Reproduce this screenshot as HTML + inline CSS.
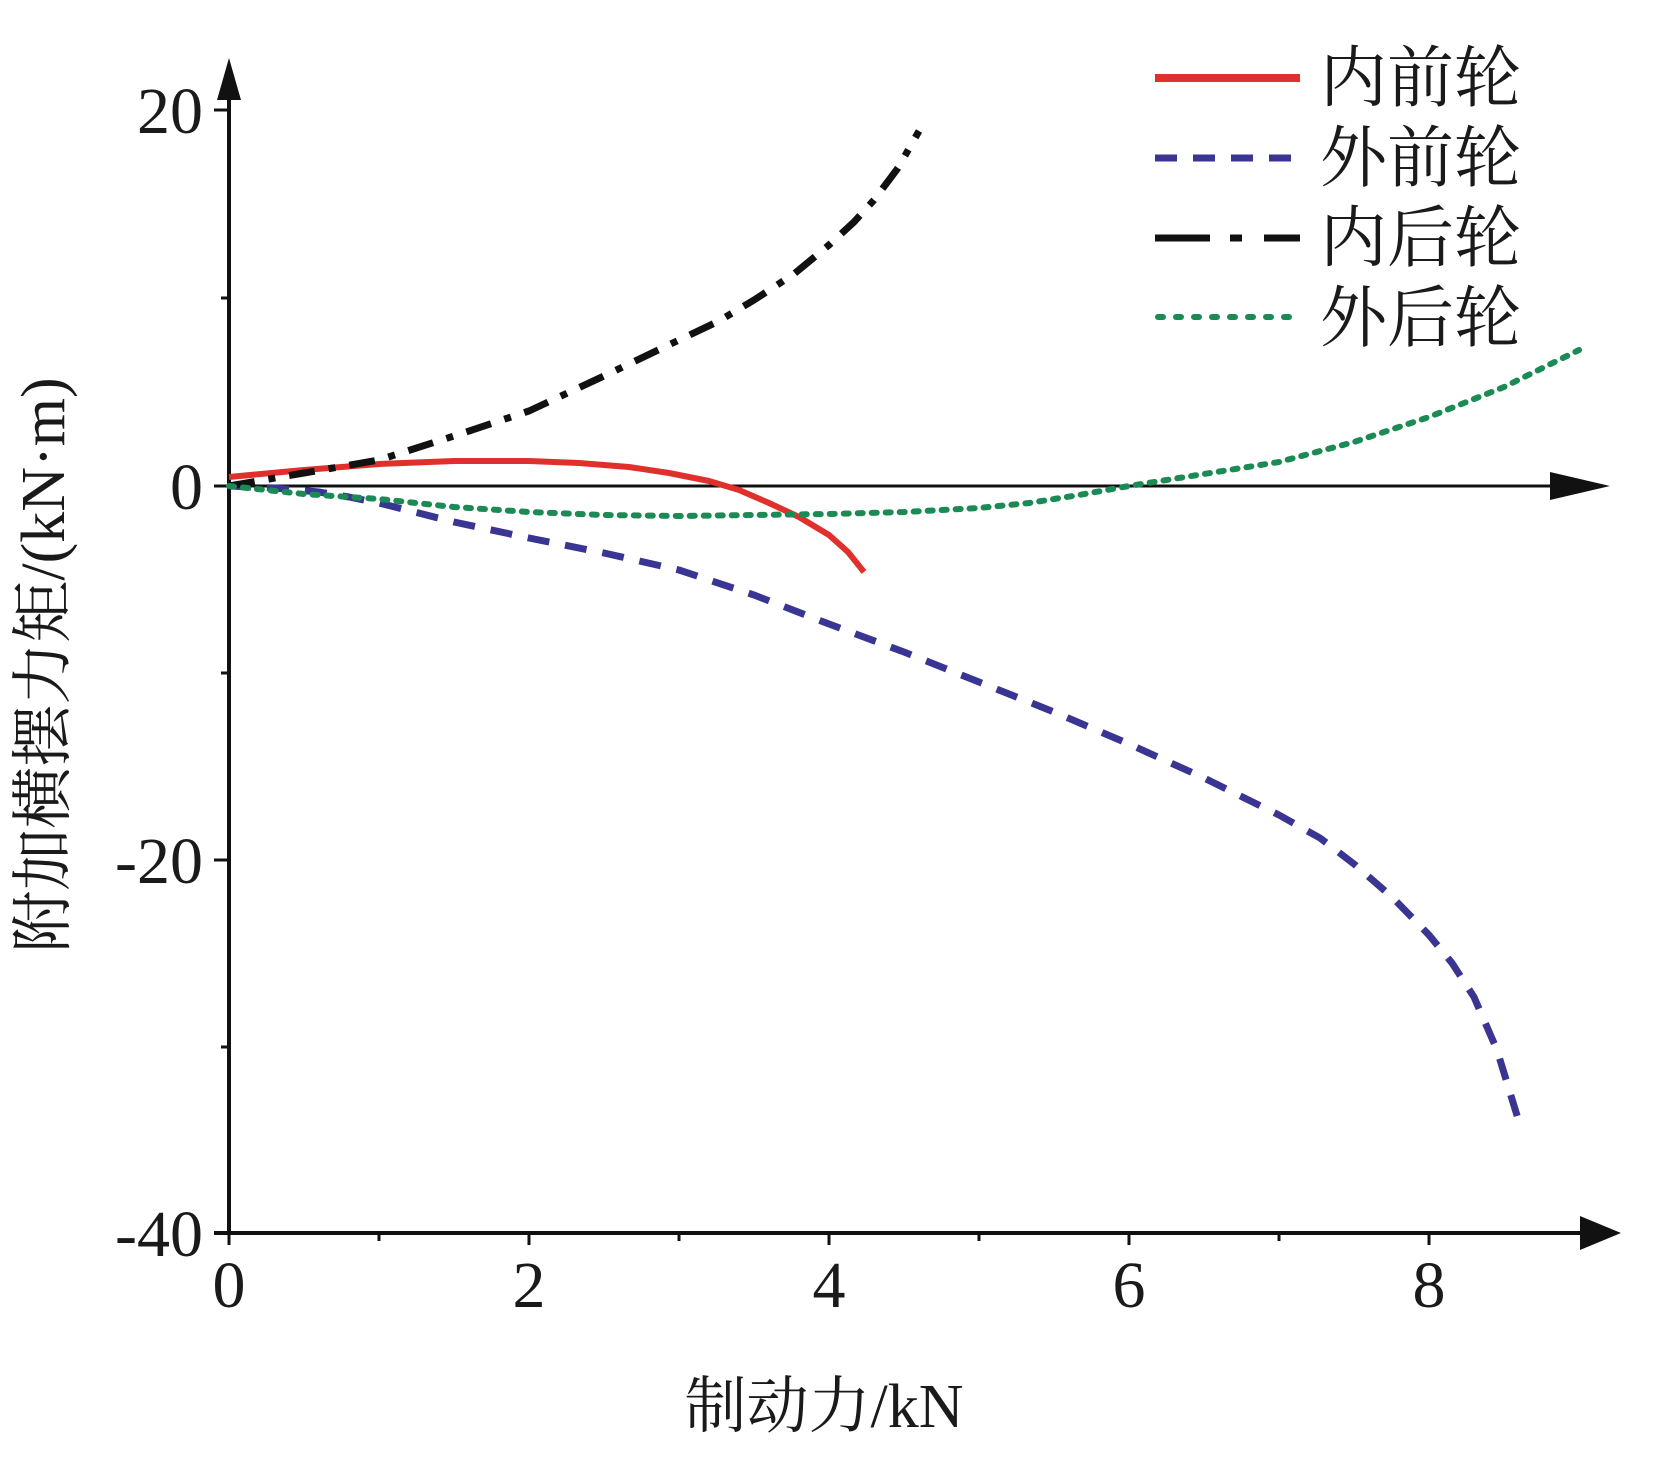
<!DOCTYPE html>
<html><head><meta charset="utf-8"><style>
html,body{margin:0;padding:0;background:#fff;}
svg{display:block;}
text{font-family:"Liberation Serif","Noto Serif CJK SC",serif;fill:#1a1a1a;}
</style></head><body>
<svg width="1654" height="1461" viewBox="0 0 1654 1461" xmlns="http://www.w3.org/2000/svg">
<line x1="229" y1="1233" x2="229" y2="90" stroke="#111" stroke-width="4"/>
<polygon points="229,58 217,100 241,100" fill="#111"/>
<line x1="214" y1="1233" x2="1590" y2="1233" stroke="#111" stroke-width="4"/>
<polygon points="1621,1233 1580,1216 1580,1250" fill="#111"/>
<line x1="229" y1="486" x2="1580" y2="486" stroke="#111" stroke-width="3"/>
<polygon points="1610,486 1550,472 1550,500" fill="#111"/>
<g stroke="#111" stroke-width="3">
<line x1="214" y1="110" x2="229" y2="110"/>
<line x1="221" y1="298" x2="229" y2="298"/>
<line x1="214" y1="486" x2="229" y2="486"/>
<line x1="221" y1="673" x2="229" y2="673"/>
<line x1="214" y1="860" x2="229" y2="860"/>
<line x1="221" y1="1047" x2="229" y2="1047"/>
<line x1="229" y1="1233" x2="229" y2="1245"/>
<line x1="379" y1="1233" x2="379" y2="1241"/>
<line x1="529" y1="1233" x2="529" y2="1245"/>
<line x1="679" y1="1233" x2="679" y2="1241"/>
<line x1="829" y1="1233" x2="829" y2="1245"/>
<line x1="979" y1="1233" x2="979" y2="1241"/>
<line x1="1129" y1="1233" x2="1129" y2="1245"/>
<line x1="1279" y1="1233" x2="1279" y2="1241"/>
<line x1="1429" y1="1233" x2="1429" y2="1245"/>
</g>
<g font-size="66" text-anchor="end">
<text x="203" y="133">20</text>
<text x="203" y="509">0</text>
<text x="203" y="883">-20</text>
<text x="203" y="1256">-40</text>
</g>
<g font-size="66" text-anchor="middle">
<text x="229" y="1307">0</text>
<text x="529" y="1307">2</text>
<text x="829" y="1307">4</text>
<text x="1129" y="1307">6</text>
<text x="1429" y="1307">8</text>
</g>
<text x="824" y="1427" font-size="62" text-anchor="middle">制动力/kN</text>
<text transform="translate(64,665) rotate(-90)" font-size="62" text-anchor="middle">附加横摆力矩/(kN·m)</text>
<g fill="none" stroke-linejoin="round">
<polyline points="229,477 304,470 379,464 454,461 529,461 579,463 629,467 669,473 709,481 739,490 769,503 799,517 829,535 848,552 864,572" stroke="#e0302c" stroke-width="6"/>
<polyline points="229,486 274,488 319,492 349,497 379,503 454,522 529,538 604,553 679,570 754,595 829,624 904,652 979,682 1054,712 1129,744 1204,778 1279,815 1320,838 1354,864 1392,897 1429,935 1452,963 1474,997 1497,1050 1519,1122" stroke="#3a3592" stroke-width="7" stroke-dasharray="22,16"/>
<polyline points="229,486 304,473 379,460 454,436 529,411 604,376 679,340 719,321 754,300 794,274 829,245 854,222 874,200 898,168 919,131" stroke="#111" stroke-width="7" stroke-dasharray="26,14,7,14"/>
<polyline points="229,486 304,494 379,499 454,507 529,512 604,515 679,516 754,515 829,514 904,512 979,508 1029,503 1079,495 1129,486 1204,474 1279,462 1354,442 1429,417 1504,387 1579,350" stroke="#1c8a55" stroke-width="6" stroke-dasharray="5,9" stroke-linecap="round"/>
</g>
<line x1="1155" y1="78" x2="1300" y2="78" stroke="#e0302c" stroke-width="8"/>
<line x1="1155" y1="158" x2="1300" y2="158" stroke="#3a3592" stroke-width="7" stroke-dasharray="22,16"/>
<line x1="1155" y1="238" x2="1300" y2="238" stroke="#111" stroke-width="7" stroke-dasharray="55,20,12,22,60"/>
<line x1="1158" y1="317" x2="1300" y2="317" stroke="#1c8a55" stroke-width="6" stroke-dasharray="5,13" stroke-linecap="round"/>
<g font-size="67">
<text x="1320" y="101">内前轮</text>
<text x="1320" y="181">外前轮</text>
<text x="1320" y="261">内后轮</text>
<text x="1320" y="341">外后轮</text>
</g>
</svg>
</body></html>
